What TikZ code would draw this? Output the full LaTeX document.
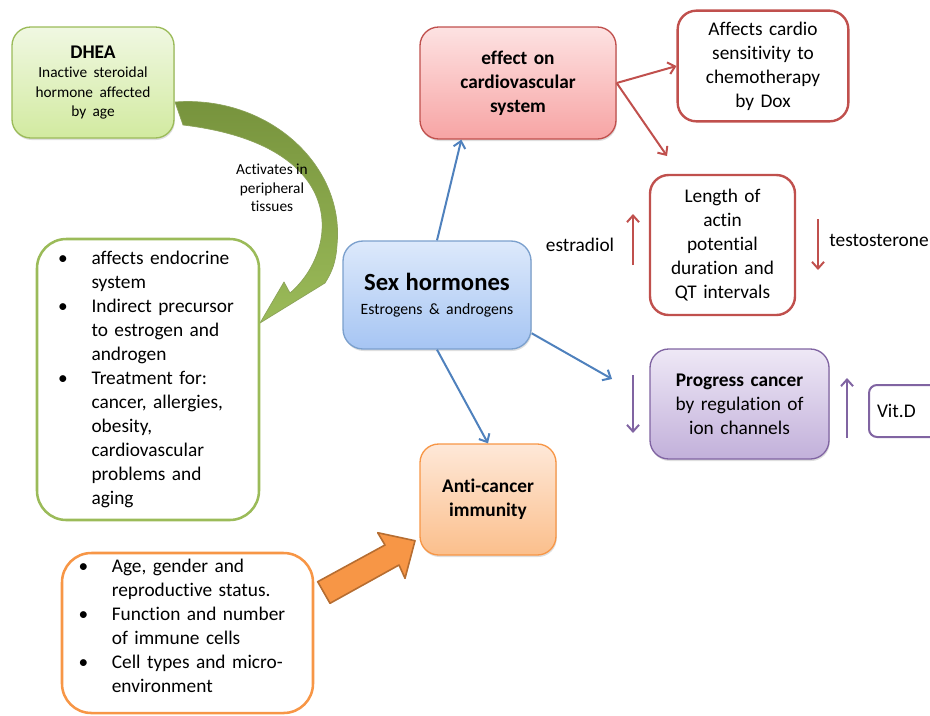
\documentclass[tikz,border=0pt]{standalone}
\usepackage{fontspec}
\setmainfont{Carlito}[Ligatures=NoCommon]
\usetikzlibrary{arrows.meta,shadows}
\setlength{\parindent}{0pt}

\definecolor{olvgreen}{HTML}{9BBB59}
\definecolor{olvdark}{HTML}{76923C}
\definecolor{dhealight}{HTML}{F0F8E2}
\definecolor{dheadeep}{HTML}{D2EAA0}
\definecolor{sexblue}{HTML}{4F81BD}
\definecolor{sexlight}{HTML}{DDE9FB}
\definecolor{sexdeep}{HTML}{A6C5F3}
\definecolor{cardred}{HTML}{C0504D}
\definecolor{cardlight}{HTML}{FDE2E2}
\definecolor{carddeep}{HTML}{F7A4A4}
\definecolor{ionpurple}{HTML}{8064A2}
\definecolor{ionlight}{HTML}{EEE8F6}
\definecolor{iondeep}{HTML}{C2B0DA}
\definecolor{immorange}{HTML}{F79646}
\definecolor{immlight}{HTML}{FEE8D8}
\definecolor{immdeep}{HTML}{FBBF8C}
\definecolor{immedge}{HTML}{B66D31}

\newcommand{\mainfs}{\fontsize{14.5}{18}\selectfont}
\newcommand{\smallfs}{\fontsize{11.5}{14.5}\selectfont}
\newcommand{\bul}{\makebox[25pt][l]{\textbullet}}
\newcommand{\cnt}{\hspace*{25pt}}

\begin{document}
\begin{tikzpicture}[x=0.75pt,y=0.75pt,yscale=-1,xscale=1,font=\mainfs,
  fillbox/.style={rounded corners=14pt, align=center, inner sep=0pt, text width=#1, line width=1pt,
    drop shadow={opacity=0.25, shadow xshift=0.6pt, shadow yshift=-1.5pt}},
  plainbox/.style={rounded corners=14pt, align=center, inner sep=0pt, text width=#1, line width=1.8pt, fill=white},
  listbox/.style={rounded corners=22pt, align=left, inner sep=0pt, text width=#1, line width=1.9pt, fill=white},
  bluearrow/.style={draw=sexblue, line width=1.5pt, -{Straight Barb[length=5pt,width=9pt]}},
  redarrow/.style={draw=cardred, line width=1.5pt, -{Straight Barb[length=5pt,width=9pt]}},
  purplearrow/.style={draw=ionpurple, line width=1.5pt, -{Straight Barb[length=5pt,width=9pt]}}]
\useasboundingbox (0,0) rectangle (930,715);

%Shape: Curved Arrow [DHEA to list]
\path[top color=olvdark, bottom color=olvgreen, draw=olvdark!85, line width=0.5pt] (175,102) .. controls (268,95) and (345,165) .. (337,245) .. controls (336,262) and (332,272) .. (325,283) -- (260,323) -- (284,282) -- (290,293) .. controls (340,250) and (350,145) .. (183,125) -- cycle ;

%Shape: Block Arrow [factors to immunity]
\draw[fill=immorange, draw=immedge, line width=1.2pt, line join=round] (317.7,581.7) -- (385,545) -- (377.7,532.7) -- (415,540.7) -- (405,578.3) -- (399,565) -- (330,603.3) -- cycle ;

%Shape: Rounded Rect [DHEA]
\node[fillbox=115pt, top color=dhealight, bottom color=dheadeep, draw=olvgreen, minimum width=121.5pt, minimum height=83.25pt] (dhea) at (93,82.5) {\textbf{DHEA}\\ {\smallfs Inactive steroidal\\ hormone affected\\ by age\par}};
%Shape: Rounded Rect [DHEA effects]
\node[listbox=134.7pt, draw=olvgreen, minimum width=166.5pt, minimum height=210.75pt] (dhealist) at (148,379.5) {\bul affects endocrine\\ \cnt system\\ \bul Indirect precursor\\ \cnt to estrogen and\\ \cnt androgen\\ \bul Treatment for:\\ \cnt cancer, allergies,\\ \cnt obesity,\\ \cnt cardiovascular\\ \cnt problems and\\ \cnt aging};
%Shape: Rounded Rect [Sex hormones]
\node[fillbox=135pt, top color=sexlight, bottom color=sexdeep, draw=sexblue!75, rounded corners=15pt, minimum width=141pt, minimum height=81pt] (sex) at (437,295) {{\fontsize{18.5}{22}\selectfont\bfseries Sex hormones\par}{\fontsize{11.8}{18}\selectfont Estrogens \& androgens\par}};
%Shape: Rounded Rect [cardiovascular]
\node[fillbox=140pt, top color=cardlight, bottom color=carddeep, draw=cardred, minimum width=147pt, minimum height=84pt] (effect) at (518,83) {\bfseries effect on\\ cardiovascular\\ system};
%Shape: Rounded Rect [Dox]
\node[plainbox=120pt, draw=cardred, minimum width=128pt, minimum height=83pt] (cardio) at (763,66) {Affects cardio\\ sensitivity to\\ chemotherapy\\ by Dox};
%Shape: Rounded Rect [QT]
\node[plainbox=100pt, draw=cardred, minimum width=108.75pt, minimum height=105pt] (actin) at (722.5,245) {Length of\\ actin\\ potential\\ duration and\\ QT intervals};
%Shape: Rounded Rect [ion channels]
\node[fillbox=128pt, top color=ionlight, bottom color=iondeep, draw=ionpurple, minimum width=134.25pt, minimum height=82.5pt] (progress) at (739.5,404) {\textbf{Progress cancer}\\ by regulation of\\ ion channels};
%Shape: Rounded Rect [Vit.D]
\node[plainbox=70pt, draw=ionpurple, line width=1.5pt, rounded corners=6pt, align=left, inner xsep=6pt, minimum height=39pt, anchor=west] (vitd) at (868,411) {Vit.D};
%Shape: Rounded Rect [immunity]
\node[fillbox=96pt, top color=immlight, bottom color=immdeep, draw=immorange, minimum width=102pt, minimum height=83.25pt] (immunity) at (488,499.5) {\bfseries Anti-cancer\\ immunity};
%Shape: Rounded Rect [immunity factors]
\node[listbox=163.5pt, draw=immorange, minimum width=188.25pt, minimum height=120pt] (agelist) at (187.5,633) {\bul Age, gender and\\ \cnt reproductive status.\\ \bul Function and number\\ \cnt of immune cells\\ \bul Cell types and micro-\\ \cnt environment\par\nointerlineskip\rule{0pt}{11pt}};

% Text Node
\node[align=center, font=\fontsize{11.5}{14}\selectfont] (activates) at (272,188) {Activates in\\ peripheral\\ tissues};
% Text Node
\node (estradiol) at (580,245) {estradiol};
% Text Node
\node (testost) at (879,240) {testosterone};

\coordinate (cardtip) at (667,156);
\coordinate (iontip) at (612,379);

%Straight Lines
\draw[bluearrow] (sex.north) -- (effect.225);
\draw[bluearrow] (sex.-22) -- (iontip);
\draw[bluearrow] (sex.south) -- (immunity.north);
\draw[redarrow] (effect.east) -- (cardio.west);
\draw[redarrow] (effect.east) -- (cardtip);
\draw[redarrow] (633,265) -- (633,214);
\draw[redarrow] (818,219) -- (818,270);
\draw[purplearrow] (633,375) -- (633,433);
\draw[purplearrow] (847,438) -- (847,378);

\end{tikzpicture}
\end{document}
